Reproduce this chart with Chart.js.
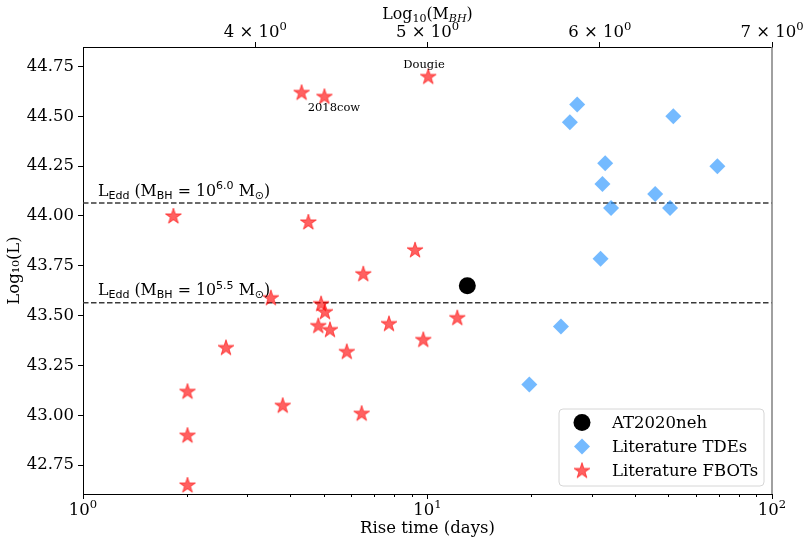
<!DOCTYPE html>
<html lang="en">
<head>
    <meta charset="UTF-8">
    <title>Rise time vs luminosity</title>
    <script src="https://cdn.jsdelivr.net/npm/chart.js@4.4.1/dist/chart.umd.min.js"></script>
    <style>
        body { margin: 0; background: #ffffff; }
        #wrap { width: 809px; height: 546px; position: relative; }
    </style>
</head>
<body>
    <div id="wrap"><canvas id="riseChart"></canvas></div>

    <script>
        // values
        const fbotRise = [1.83, 2.01, 2.01, 2.01, 2.60, 3.51, 4.31, 5.02, 10.05, 4.51, 9.20, 6.51, 4.91, 5.04, 4.82, 5.21, 5.83, 7.73, 9.72, 12.2, 3.80, 6.44];
        const fbotLum = [44.00, 43.12, 42.90, 42.65, 43.34, 43.59, 44.62, 44.60, 44.70, 43.97, 43.83, 43.71, 43.56, 43.52, 43.45, 43.43, 43.32, 43.46, 43.38, 43.49, 43.05, 43.01];

        const tdeRise = [27.2, 25.9, 51.7, 32.8, 69.4, 32.2, 45.8, 34.1, 50.6, 31.8, 24.4, 19.75];
        const tdeLum = [44.56, 44.47, 44.50, 44.265, 44.25, 44.16, 44.11, 44.04, 44.04, 43.785, 43.445, 43.155];

        const nehRise = [13.05];
        const nehLum = [43.65];

        const eddLum = [44.065, 43.565];
        const eddExp = ['6.0', '5.5'];

        const xTicks = [1, 10, 100];
        const xTickExp = ['0', '1', '2'];
        const xMinorTicks = [2, 3, 4, 5, 6, 7, 8, 9, 20, 30, 40, 50, 60, 70, 80, 90];
        const yTicks = [42.75, 43.00, 43.25, 43.50, 43.75, 44.00, 44.25, 44.50, 44.75];
        const topTicks = [4, 5, 6, 7];
        const topTickMant = ['4', '5', '6', '7'];

        const pointNames = ['Dougie', '2018cow'];
        const nameRise = [9.77, 5.35];
        const nameLum = [44.76, 44.54];

        const serif = "'DejaVu Serif', serif";
        const sans = "'DejaVu Sans', sans-serif";
        const FS = 16.5;

        function toPoints(xs, ys) {
            return xs.map((x, i) => ({ x: x, y: ys[i] }));
        }

        // filled five point star, chart.js 'star' is only a line cross
        function makeStar(r, color) {
            const c = document.createElement('canvas');
            const size = Math.ceil(r * 2 + 3);
            c.width = size;
            c.height = size;
            const g = c.getContext('2d');
            const cx = size / 2, cy = size / 2 + 0.5;
            g.beginPath();
            for (let i = 0; i < 10; i++) {
                const rad = i % 2 === 0 ? r : r * 0.382;
                const a = -Math.PI / 2 + i * Math.PI / 5;
                const px = cx + rad * Math.cos(a);
                const py = cy + rad * Math.sin(a);
                if (i === 0) g.moveTo(px, py); else g.lineTo(px, py);
            }
            g.closePath();
            g.fillStyle = color;
            g.fill();
            g.lineWidth = 1;
            g.strokeStyle = color;
            g.stroke();
            return c;
        }

        const starImg = makeStar(8.3, 'rgba(255, 0, 0, 0.62)');

        // text with sub / superscripts
        function drawRich(ctx, parts, x, y, align, size) {
            const fontOf = p => (p.it ? 'italic ' : '') + (size * (p.s || 1)) + 'px ' + (p.f || serif);
            let total = 0;
            parts.forEach(p => { ctx.font = fontOf(p); total += ctx.measureText(p.t).width; });
            let cx = align === 'center' ? x - total / 2 : x;
            ctx.textAlign = 'left';
            ctx.textBaseline = 'alphabetic';
            parts.forEach(p => {
                ctx.font = fontOf(p);
                ctx.fillText(p.t, cx, y + (p.dy || 0) * size);
                cx += ctx.measureText(p.t).width;
            });
        }

        const extras = {
            id: 'extras',
            afterDatasetsDraw(chart) {
                const { ctx, chartArea, scales } = chart;
                ctx.save();
                ctx.fillStyle = '#000';

                // eddington labels
                eddLum.forEach((l, i) => {
                    const px = scales.x.getPixelForValue(1.105);
                    const py = scales.y.getPixelForValue(l + 0.037);
                    drawRich(ctx, [
                        { t: 'L' },
                        { t: 'Edd', s: 0.7, dy: 0.2, f: sans },
                        { t: ' (M' },
                        { t: 'BH', s: 0.7, dy: 0.2, f: sans },
                        { t: ' = 10' },
                        { t: eddExp[i], s: 0.7, dy: -0.4, f: sans },
                        { t: ' M' },
                        { t: '⊙', s: 0.7, dy: 0.2, f: sans },
                        { t: ')' }
                    ], px, py, 'left', 15.8);
                });

                // point names
                ctx.font = '11.5px ' + serif;
                ctx.textAlign = 'center';
                ctx.textBaseline = 'middle';
                pointNames.forEach((n, i) => {
                    ctx.fillText(n, scales.x.getPixelForValue(nameRise[i]), scales.y.getPixelForValue(nameLum[i]));
                });

                // tick labels with real superscripts
                xTicks.forEach((v, i) => {
                    drawRich(ctx, [{ t: '10' }, { t: xTickExp[i], s: 0.7, dy: -0.45 }],
                        scales.x.getPixelForValue(v), chartArea.bottom + 21, 'center', FS);
                });
                topTicks.forEach((v, i) => {
                    drawRich(ctx, [{ t: topTickMant[i] + ' × 10' }, { t: '0', s: 0.7, dy: -0.45 }],
                        scales.x2.getPixelForValue(v), chartArea.top - 10, 'center', FS);
                });

                // top axis title
                drawRich(ctx, [
                    { t: 'Log' },
                    { t: '10', s: 0.7, dy: 0.2 },
                    { t: '(M' },
                    { t: 'BH', s: 0.7, dy: 0.2, it: true },
                    { t: ')' }
                ], (chartArea.left + chartArea.right) / 2, 19, 'center', 15.8);

                // minor log ticks
                ctx.strokeStyle = '#000';
                ctx.lineWidth = 1;
                xMinorTicks.forEach(v => {
                    const px = Math.round(scales.x.getPixelForValue(v)) + 0.5;
                    ctx.beginPath();
                    ctx.moveTo(px, chartArea.bottom);
                    ctx.lineTo(px, chartArea.bottom + 3);
                    ctx.stroke();
                });

                // right spine
                ctx.strokeStyle = '#808080';
                ctx.lineWidth = 1.5;
                ctx.beginPath();
                ctx.moveTo(chartArea.right, chartArea.top);
                ctx.lineTo(chartArea.right, chartArea.bottom);
                ctx.stroke();

                // legend
                const items = chart.data.datasets.filter(d => d.label);
                const bw = 205, bh = 77;
                const bx = chartArea.right - 8 - bw, by = chartArea.bottom - 8 - bh;
                ctx.beginPath();
                ctx.roundRect(bx, by, bw, bh, 4);
                ctx.fillStyle = 'rgba(255,255,255,0.85)';
                ctx.fill();
                ctx.strokeStyle = '#d6d6d6';
                ctx.lineWidth = 1;
                ctx.stroke();
                items.forEach((d, i) => {
                    const my = by + 13.5 + i * 24;
                    ctx.fillStyle = d.backgroundColor;
                    ctx.strokeStyle = d.borderColor;
                    ctx.lineWidth = d.borderWidth || 0;
                    Chart.helpers.drawPoint(ctx, {
                        pointStyle: d.pointStyle, radius: d.pointRadius, rotation: 0, borderWidth: d.borderWidth || 0
                    }, bx + 23, my);
                    ctx.fillStyle = '#000';
                    ctx.font = FS + 'px ' + serif;
                    ctx.textAlign = 'left';
                    ctx.textBaseline = 'middle';
                    ctx.fillText(d.label, bx + 53, my + 1);
                });
                ctx.restore();
            }
        };

        const eddLines = eddLum.map(l => ({
            type: 'line',
            data: [{ x: 1, y: l }, { x: 100, y: l }],
            borderColor: '#3a3a3a',
            borderWidth: 1.4,
            borderDash: [5.5, 2.5],
            pointRadius: 0,
            fill: false
        }));

        new Chart(document.getElementById('riseChart'), {
            type: 'scatter',
            data: {
                datasets: [
                    {
                        label: 'AT2020neh',
                        data: toPoints(nehRise, nehLum),
                        pointStyle: 'circle',
                        pointRadius: 8.5,
                        backgroundColor: '#000000',
                        borderColor: '#000000',
                        borderWidth: 0
                    },
                    {
                        label: 'Literature TDEs',
                        data: toPoints(tdeRise, tdeLum),
                        pointStyle: 'rectRot',
                        pointRadius: 8,
                        backgroundColor: 'rgba(30, 144, 255, 0.62)',
                        borderColor: 'rgba(30, 144, 255, 0.62)',
                        borderWidth: 0
                    },
                    {
                        label: 'Literature FBOTs',
                        data: toPoints(fbotRise, fbotLum),
                        pointStyle: starImg,
                        pointRadius: 8.3,
                        backgroundColor: 'rgba(255, 0, 0, 0.62)',
                        borderColor: 'rgba(255, 0, 0, 0.62)',
                        borderWidth: 0
                    },
                    ...eddLines
                ]
            },
            options: {
                responsive: true,
                maintainAspectRatio: false,
                animation: false,
                layout: { padding: { left: 0, right: 37, top: 0, bottom: 0 } },
                plugins: {
                    legend: { display: false },
                    tooltip: { enabled: false }
                },
                scales: {
                    x: {
                        type: 'logarithmic',
                        position: 'bottom',
                        min: 1,
                        max: 100,
                        afterBuildTicks: s => { s.ticks = xTicks.map(v => ({ value: v })); },
                        afterFit: s => { s.height = 52; },
                        grid: { drawOnChartArea: false, tickLength: 5, tickColor: '#000' },
                        border: { color: '#000', width: 1 },
                        ticks: { display: false, autoSkip: false },
                        title: {
                            display: true,
                            text: 'Rise time (days)',
                            color: '#000',
                            font: { family: serif, size: FS },
                            padding: { top: 0, bottom: 7 }
                        }
                    },
                    x2: {
                        type: 'linear',
                        position: 'top',
                        min: 3,
                        max: 7,
                        afterBuildTicks: s => { s.ticks = topTicks.map(v => ({ value: v })); },
                        afterFit: s => { s.height = 47; },
                        grid: { drawOnChartArea: false, tickLength: 5, tickColor: '#000' },
                        border: { color: '#000', width: 1 },
                        ticks: { display: false, autoSkip: false }
                    },
                    y: {
                        type: 'linear',
                        min: 42.605,
                        max: 44.848,
                        afterBuildTicks: s => { s.ticks = yTicks.map(v => ({ value: v })); },
                        afterFit: s => { s.width = 83; },
                        grid: { drawOnChartArea: false, tickLength: 5, tickColor: '#000' },
                        border: { color: '#000', width: 1 },
                        ticks: {
                            autoSkip: false,
                            padding: 4,
                            color: '#000',
                            font: { family: serif, size: FS },
                            callback: v => v.toFixed(2)
                        },
                        title: {
                            display: true,
                            text: 'Log₁₀(L)',
                            color: '#000',
                            font: { family: serif, size: FS },
                            padding: { top: 5, bottom: 0 }
                        }
                    }
                }
            },
            plugins: [extras]
        });
    </script>
</body>
</html>
